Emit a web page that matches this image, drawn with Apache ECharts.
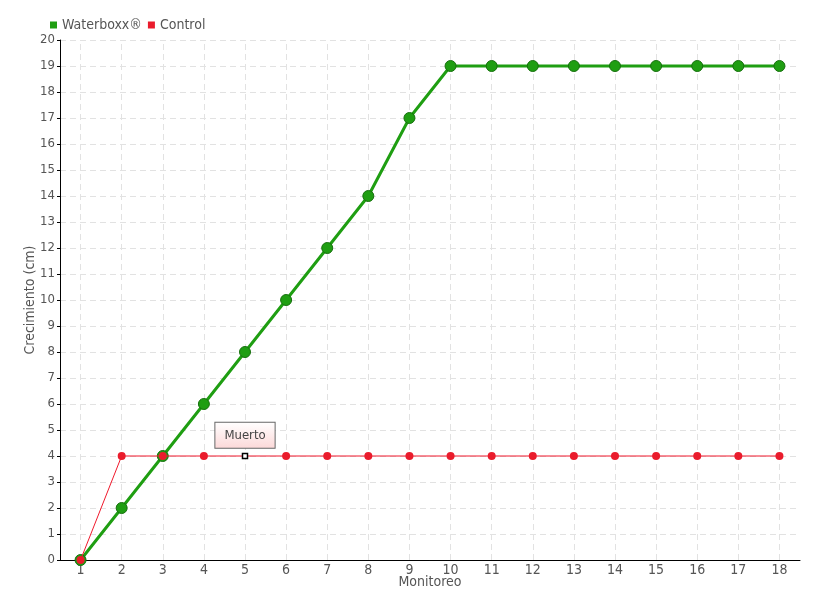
<!DOCTYPE html>
<html><head><meta charset="utf-8">
<script src="https://cdn.jsdelivr.net/npm/echarts@6/dist/echarts.min.js"></script>
<style>html,body{margin:0;padding:0;background:#fff}#c{width:820px;height:600px}</style>
</head><body><div id="c"></div>
<script>
var categories = ['1','2','3','4','5','6','7','8','9','10','11','12','13','14','15','16','17','18'];
var waterboxx = [0,2,4,6,8,10,12,14,17,19,19,19,19,19,19,19,19,19];
var control = [0,4,4,4,4,4,4,4,4,4,4,4,4,4,4,4,4,4];
var deadIndex = 4;
var deadLabel = 'Muerto';

var FONT = '"DejaVu Sans Condensed", "Roboto Condensed", Roboto, sans-serif';
var chart = echarts.init(document.getElementById('c'));
var controlData = control.map(function(v,i){
  if(i===deadIndex){
    return {value:v, symbol:'rect', symbolSize:5,
      itemStyle:{color:'#fff', borderColor:'#000', borderWidth:1.5},
      label:{show:true, formatter:deadLabel, position:'top', distance:5,
        fontFamily:FONT, fontSize:13, color:'#444',
        backgroundColor:{type:'linear',x:0,y:0,x2:0,y2:1,colorStops:[{offset:0,color:'#fff'},{offset:1,color:'#fcd8d8'}]},
        borderColor:'#666', borderWidth:1, padding:[6,9,6,9]}};
  }
  return v;
});
var vLines = categories.map(function(c){ return {xAxis:c}; });
chart.setOption({
  animation:false,
  textStyle:{fontFamily:FONT, color:'#555'},
  legend:{left:45, top:13, itemWidth:7, itemHeight:7, itemGap:6, icon:'rect',
    itemStyle:{borderWidth:0},
    textStyle:{fontFamily:FONT, fontSize:14, color:'#555'},
    data:[{name:'Waterboxx®'},{name:'Control'}]},
  grid:{left:60, right:20, top:40, bottom:40, outerBoundsMode:'none', containLabel:false},
  xAxis:{type:'category', data:categories, boundaryGap:true, name:'Monitoreo', nameLocation:'middle', nameGap:15,
    nameMoveOverlap:false,
    nameTextStyle:{fontFamily:FONT, fontSize:14, color:'#555'},
    axisLine:{lineStyle:{color:'#000', width:1}},
    axisTick:{show:true, alignWithLabel:true, inside:true, length:4, lineStyle:{color:'#000'}},
    axisLabel:{fontFamily:FONT, fontSize:14, color:'#555', margin:3},
    splitLine:{show:false}
  },
  yAxis:{type:'value', min:0, max:20, interval:1, name:'Crecimiento (cm)', nameLocation:'middle', nameGap:23,
    nameMoveOverlap:false,
    nameTextStyle:{fontFamily:FONT, fontSize:14, color:'#555'},
    axisLine:{show:true, lineStyle:{color:'#000', width:1}},
    axisTick:{show:true, length:3, lineStyle:{color:'#000'}},
    axisLabel:{fontFamily:FONT, fontSize:13, color:'#555', margin:5},
    splitLine:{show:true, lineStyle:{color:'#e2e2e2', type:[6,4]}}
  },
  series:[
    {name:'Waterboxx®', type:'line', data:waterboxx, symbol:'circle', symbolSize:11,
      lineStyle:{color:'#1f9e12', width:3}, itemStyle:{color:'#1f9e12', borderColor:'#17700e', borderWidth:1}, z:2,
      markLine:{silent:true, symbol:'none', label:{show:false}, z:1,
        lineStyle:{color:'#e2e2e2', type:[6,4], width:1}, data:vLines}},
    {name:'Control', type:'line', data:controlData, symbol:'circle', symbolSize:8,
      lineStyle:{color:'#f0192c', width:1}, itemStyle:{color:'#ea1c2c'}, z:3}
  ]
});
</script></body></html>
